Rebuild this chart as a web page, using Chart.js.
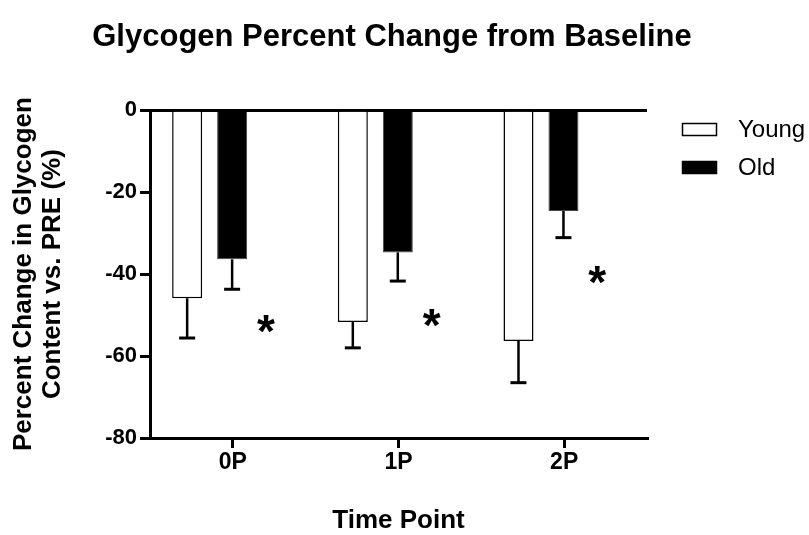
<!DOCTYPE html>
<html>
<head>
<meta charset="utf-8">
<script src="https://cdn.jsdelivr.net/npm/chart.js@4.4.1/dist/chart.umd.min.js"></script>
<style>
  html, body { margin: 0; padding: 0; background: #fff; }
</style>
</head>
<body>
<canvas id="glycogenChart" width="809" height="535"></canvas>
<script>
// values (percent change vs. PRE)
const timePoints = ['0P', '1P', '2P'];
const youngMean = [-45.9, -51.7, -56.3];
const youngErr = [9.7, 6.3, 10.2];
const oldMean = [-36.4, -34.7, -24.6];
const oldErr = [7.3, 7.0, 6.5];
const yTicks = [0, -20, -40, -60, -80];
const starY = [-52.2, -50.7, -40.2];   // where the * marks sit

const FONT = "'Liberation Sans', Arial, Helvetica, sans-serif";
const groupShift = -0.14;  // bar pair sits left of its tick (old bar on the tick)
const starShift = 0.2;

function points(values) {
  return values.map((v, i) => ({ x: i + 0.5 + groupShift, y: v }));
}

// error bars (downward only) and significance stars
const errorBars = {
  id: 'errorBars',
  afterDatasetsDraw(chart) {
    const ctx = chart.ctx;
    const yScale = chart.scales.y;
    const xScale = chart.scales.x;
    const errs = [youngErr, oldErr];
    ctx.save();
    ctx.strokeStyle = '#000';
    chart.data.datasets.forEach((ds, di) => {
      chart.getDatasetMeta(di).data.forEach((bar, i) => {
        const yEnd = yScale.getPixelForValue(ds.data[i].y - errs[di][i]);
        ctx.lineWidth = 2.5;
        ctx.beginPath();
        ctx.moveTo(bar.x, bar.y);
        ctx.lineTo(bar.x, yEnd);
        ctx.stroke();
        ctx.lineWidth = 3;
        ctx.beginPath();
        ctx.moveTo(bar.x - 8, yEnd);
        ctx.lineTo(bar.x + 8, yEnd);
        ctx.stroke();
      });
    });

    ctx.fillStyle = '#000';
    ctx.font = 'bold 46px ' + FONT;
    ctx.textAlign = 'center';
    ctx.textBaseline = 'alphabetic';
    const m = ctx.measureText('*');
    const mid = (m.actualBoundingBoxDescent - m.actualBoundingBoxAscent) / 2;
    starY.forEach((v, i) => {
      const x = xScale.getPixelForValue(i + 0.5 + starShift);
      ctx.fillText('*', x, yScale.getPixelForValue(v) - mid);
    });
    ctx.restore();
  }
};

// legend on the right, drawn by hand
const sideLegend = {
  id: 'sideLegend',
  afterDraw(chart) {
    const ctx = chart.ctx;
    const items = [
      { label: 'Young', fill: '#fff' },
      { label: 'Old', fill: '#000' }
    ];
    ctx.save();
    ctx.font = '24px ' + FONT;
    ctx.textBaseline = 'middle';
    ctx.textAlign = 'left';
    items.forEach((it, i) => {
      const y = 123 + i * 38;
      ctx.fillStyle = it.fill;
      ctx.fillRect(682, y, 35, 13);
      ctx.strokeStyle = '#000';
      ctx.lineWidth = 1.5;
      ctx.strokeRect(682.5, y + 0.5, 34, 12);
      ctx.fillStyle = '#000';
      ctx.fillText(it.label, 738, y + 7);
    });
    ctx.restore();
  }
};

new Chart(document.getElementById('glycogenChart'), {
  type: 'bar',
  data: {
    datasets: [{
      label: 'Young',
      data: points(youngMean),
      backgroundColor: '#fff',
      borderColor: '#000',
      borderWidth: 1.5,
      borderSkipped: 'start'
    }, {
      label: 'Old',
      data: points(oldMean),
      backgroundColor: '#000',
      borderColor: '#444',
      borderWidth: 1,
      borderSkipped: 'start'
    }]
  },
  options: {
    responsive: false,
    animation: false,
    devicePixelRatio: 1,
    categoryPercentage: 0.543,
    barPercentage: 0.667,
    layout: { padding: { left: 0, right: 25, top: 0, bottom: 0 } },
    plugins: {
      legend: { display: false },
      tooltip: { enabled: false },
      title: {
        display: true,
        text: 'Glycogen Percent Change from Baseline',
        color: '#000',
        font: { family: FONT, size: 31, weight: 'bold', lineHeight: 1.2 },
        padding: { top: 19, bottom: 54 }
      }
    },
    scales: {
      x: {
        type: 'linear',
        min: 0,
        max: 3,
        offset: false,
        afterBuildTicks: s => { s.ticks = timePoints.map((_, i) => ({ value: i + 0.5 })); },
        afterFit: s => { s.height = 97; },
        ticks: {
          callback: (v, i) => timePoints[i],
          color: '#000',
          padding: 1,
          font: { family: FONT, size: 23, weight: 'bold' }
        },
        grid: {
          offset: false,
          drawOnChartArea: false,
          color: '#000',
          lineWidth: 3,
          tickLength: 10
        },
        border: { display: true, color: '#000', width: 3 },
        title: {
          display: true,
          text: 'Time Point',
          color: '#000',
          font: { family: FONT, size: 26, weight: 'bold', lineHeight: 1 },
          padding: { top: 0, bottom: 1 }
        }
      },
      y: {
        min: -80,
        max: 0,
        afterBuildTicks: s => { s.ticks = yTicks.map(v => ({ value: v })); },
        afterFit: s => { s.width = 150; },
        ticks: {
          color: '#000',
          padding: 3,
          font: { family: FONT, size: 22, weight: 'bold' }
        },
        grid: {
          color: c => (c.tick && c.tick.value === 0) ? '#000' : 'rgba(0,0,0,0)',
          tickColor: '#000',
          lineWidth: 3,
          tickWidth: 3,
          tickLength: 10
        },
        border: { display: true, color: '#000', width: 3 },
        title: {
          display: true,
          text: ['Percent Change in Glycogen', 'Content vs. PRE (%)'],
          color: '#000',
          font: { family: FONT, size: 26, weight: 'bold', lineHeight: 1.12 },
          padding: { top: 9.5, bottom: 0 }
        }
      },
      // empty right-hand box that keeps room for the legend
      legendSpace: {
        axis: 'y',
        position: 'right',
        display: true,
        afterFit: s => { s.width = 137; },
        ticks: { display: false },
        grid: { display: false },
        border: { display: false }
      }
    }
  },
  plugins: [errorBars, sideLegend]
});
</script>
</body>
</html>
